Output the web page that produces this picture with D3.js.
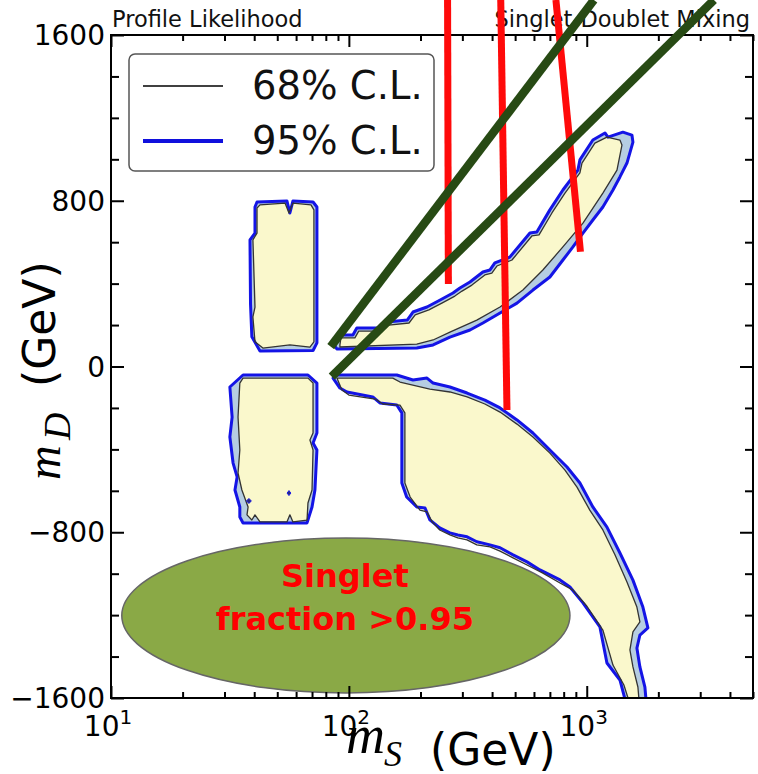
<!DOCTYPE html>
<html>
<head>
<meta charset="utf-8">
<script src="https://cdn.jsdelivr.net/npm/d3@7"></script>
<style>
  body { margin: 0; background: #fff; }
</style>
</head>
<body>
<div id="chart"></div>
<script>
// ---- data (mS in GeV, mD in GeV) ----
const xMajorTicks = [10, 100, 1000];
const xMinorTicks = [20, 30, 40, 50, 60, 70, 80, 90, 200, 300, 400, 500, 600, 700, 800, 900, 2000, 3000, 4000, 5000];
const yMajorTicks = [-1600, -800, 0, 800, 1600];
const yMinorTicks = [-1400, -1200, -1000, -600, -400, -200, 200, 400, 600, 1000, 1200, 1400];
const xExponents = ['1', '2', '3'];
const legendLabels = ['68% C.L.', '95% C.L.'];
const titleLeft = 'Profile Likelihood';
const titleRight = 'Singlet-Doublet Mixing';
const ellipseLabel = ['Singlet', 'fraction >0.95'];

// 95% C.L. regions
const upperLeft95 = [[41.1,794],[54.9,799],[56.5,741],[58.2,799],[70.7,794],[73.4,770],[73.4,114],[70.7,77],[42.3,75],[39.1,143],[38.6,300],[38.4,611],[40.3,644],[40.3,770]];
const lowerLeft95 = [[35.9,-41],[67.3,-41],[73.4,-80],[73.4,-321],[70.7,-369],[73.4,-403],[72.0,-596],[70.0,-678],[66.7,-755],[35.9,-755],[34.8,-726],[34.8,-678],[33.2,-596],[33.9,-533],[32.6,-466],[31.6,-340],[32.3,-244],[31.6,-99]];
const upperBand95 = [[86.6,104],[90,152],[104,152],[108,186],[135,186],[145,215],[176,224],[186,263],[213,287],[242,321],[274,355],[293,379],[323,408],[366,456],[392,466],[411,500],[475,528],[577,644],[617,649],[700,756],[794,852],[918,948],[936,997],[1061,1093],[1193,1127],[1228,1107],[1419,1131],[1549,1117],[1564,1083],[1476,982],[1379,915],[1289,852],[1169,770],[1061,707],[964,644],[875,577],[794,514],[700,432],[594,369],[509,306],[432,258],[366,210],[323,176],[266,142],[226,104],[193,89],[89,85]];
const lowerBand95 = [[85.8,-56],[89.1,-41],[159,-41],[186,-65],[213,-56],[226,-80],[266,-99],[314,-128],[373,-162],[432,-200],[509,-258],[594,-321],[700,-403],[826,-485],[936,-562],[1061,-678],[1216,-775],[1379,-900],[1564,-1031],[1722,-1161],[1808,-1262],[1673,-1296],[1625,-1359],[1673,-1450],[1756,-1547],[1791,-1660],[1490,-1660],[1379,-1513],[1216,-1431],[1136,-1257],[964,-1141],[850,-1064],[772,-1030],[636,-982],[561,-943],[490,-909],[432,-875],[392,-861],[345,-846],[314,-822],[287,-813],[266,-803],[241,-779],[219,-740],[209,-683],[193,-678],[175,-630],[167,-562],[167,-224],[159,-186],[135,-176],[126,-147],[98.2,-123],[91.7,-104]];

// 68% C.L. regions
const upperLeft68 = [[42.3,780],[53.9,789],[56.0,741],[58.2,789],[69.3,780],[71.3,756],[71.3,119],[68.6,94],[56.5,104],[43.5,89],[40.3,119],[39.5,239],[40.3,287],[39.5,611],[41.1,644],[41.1,765]];
const lowerLeft68 = [[35.9,-56],[67.3,-56],[70.7,-80],[70.7,-321],[68.6,-355],[70.7,-403],[70.0,-596],[67.3,-659],[66.7,-741],[58.2,-750],[56.5,-716],[54.9,-750],[42.3,-750],[40.3,-716],[39.1,-741],[37.3,-716],[37.7,-678],[35.5,-596],[34.2,-514],[34.8,-403],[34.2,-244],[34.8,-80]];
const upperBand68 = [[91.7,104],[92.6,138],[106,138],[110,171],[138,171],[147,200],[179,210],[190,249],[217,273],[246,306],[279,340],[299,364],[329,393],[373,442],[399,451],[419,485],[485,514],[588,630],[630,635],[714,741],[810,837],[936,934],[955,982],[1082,1078],[1216,1107],[1379,1093],[1406,1069],[1340,948],[1169,837],[964,692],[794,577],[654,466],[539,369],[432,287],[345,224],[266,166],[226,128],[193,108],[91.7,94]];
const lowerBand68 = [[89.1,-56],[153,-56],[164,-75],[219,-109],[266,-123],[314,-147],[373,-181],[432,-220],[509,-278],[594,-340],[700,-418],[810,-500],[910,-582],[1030,-693],[1169,-789],[1314,-909],[1476,-1040],[1625,-1161],[1673,-1233],[1564,-1281],[1519,-1368],[1564,-1450],[1641,-1547],[1673,-1660],[1549,-1660],[1433,-1537],[1289,-1441],[1169,-1272],[1000,-1156],[875,-1079],[772,-1045],[654,-997],[561,-958],[490,-924],[432,-891],[392,-871],[345,-861],[314,-837],[287,-827],[266,-813],[241,-789],[224,-750],[213,-702],[199,-693],[181,-630],[172,-562],[172,-224],[164,-186],[139,-181],[129,-157],[100,-138],[93.5,-113]];
const islands68 = [
  [[37.1,-649],[38.0,-637],[38.9,-649],[38.0,-661]],
  [[55.0,-611],[56.0,-599],[57.0,-611],[56.0,-623]]
];

// constraint lines: [[mS, mD], [mS, mD]]
const redLines = [
  [[260,1769],[262,398]],
  [[435,1769],[462,-210]],
  [[742,1769],[941,554]]
];
const greenLines = [
  [[83.9,96],[1072,1769]],
  [[84.7,-49],[3425,1769]]
];
// singlet-fraction ellipse extent (mS range, mD range)
const ellipseMS = [11.1, 850];
const ellipseMD = [-1576, -828];

// ---- layout ----
const width = 758, height = 774;
const margin = {top: 35, right: 5, bottom: 76, left: 111};
const plotW = width - margin.left - margin.right;
const plotH = height - margin.top - margin.bottom;

const x = d3.scaleLog().domain([10, 5000]).range([margin.left, width - margin.right]);
const y = d3.scaleLinear().domain([-1600, 1600]).range([height - margin.bottom, margin.top]);

const svg = d3.select('#chart').append('svg')
    .attr('width', width)
    .attr('height', height)
    .style('font-family', '"DejaVu Sans", sans-serif');

// Titles
svg.append('text')
    .attr('x', margin.left + 1).attr('y', 27)
    .attr('font-size', '22.5px').attr('fill', '#111')
    .text(titleLeft);
svg.append('text')
    .attr('x', width - 8).attr('y', 27)
    .attr('text-anchor', 'end')
    .attr('font-size', '22.5px').attr('fill', '#111')
    .text(titleRight);

// Contours
svg.append('clipPath').attr('id', 'plot-clip')
  .append('rect')
    .attr('x', margin.left).attr('y', margin.top)
    .attr('width', plotW).attr('height', plotH);

const plot = svg.append('g').attr('clip-path', 'url(#plot-clip)');
const area = d3.line().x(d => x(d[0])).y(d => y(d[1])).curve(d3.curveLinearClosed);

const regions95 = [upperLeft95, lowerLeft95, upperBand95, lowerBand95];
const regions68 = [upperLeft68, lowerLeft68, upperBand68, lowerBand68];

plot.selectAll('path.fill95').data(regions95).enter().append('path')
    .attr('class', 'fill95').attr('d', area)
    .attr('fill', '#b5cde2').attr('stroke', 'none');
plot.selectAll('path.fill68').data(regions68).enter().append('path')
    .attr('class', 'fill68').attr('d', area)
    .attr('fill', '#faf8cc').attr('stroke', 'none');
plot.selectAll('path.line95').data(regions95).enter().append('path')
    .attr('class', 'line95').attr('d', area)
    .attr('fill', 'none').attr('stroke', '#1414e6')
    .attr('stroke-width', 3).attr('stroke-linejoin', 'round');
plot.selectAll('path.line68').data(regions68).enter().append('path')
    .attr('class', 'line68').attr('d', area)
    .attr('fill', 'none').attr('stroke', '#333')
    .attr('stroke-width', 1.3).attr('stroke-linejoin', 'round');
plot.selectAll('path.island').data(islands68).enter().append('path')
    .attr('class', 'island').attr('d', area)
    .attr('fill', '#2a2a7a').attr('stroke', '#1414e6').attr('stroke-width', 1);

// Singlet fraction ellipse
const ex0 = x(ellipseMS[0]), ex1 = x(ellipseMS[1]);
const ey0 = y(ellipseMD[1]), ey1 = y(ellipseMD[0]);
plot.append('ellipse')
    .attr('cx', (ex0 + ex1) / 2).attr('cy', (ey0 + ey1) / 2)
    .attr('rx', (ex1 - ex0) / 2).attr('ry', (ey1 - ey0) / 2)
    .attr('fill', '#8aa946').attr('stroke', '#666').attr('stroke-width', 1.5);

svg.selectAll('text.singlet').data(ellipseLabel).enter().append('text')
    .attr('class', 'singlet')
    .attr('x', (ex0 + ex1) / 2 - 1)
    .attr('y', (d, i) => 587 + i * 43)
    .attr('text-anchor', 'middle')
    .attr('font-family', '"Comic Sans MS", "DejaVu Sans", sans-serif')
    .attr('font-weight', 'bold')
    .attr('font-size', '32px')
    .attr('fill', '#ff0000')
    .text(d => d);

// Frame
svg.append('rect')
    .attr('x', margin.left).attr('y', margin.top)
    .attr('width', plotW).attr('height', plotH)
    .attr('fill', 'none').attr('stroke', '#000').attr('stroke-width', 2);

// Ticks, pointing inward on all four sides
function ticks(axis, values, size, transform) {
    svg.append('g')
        .attr('transform', transform)
        .call(axis.tickValues(values).tickSize(-size).tickFormat(''))
        .call(g => g.select('.domain').remove())
        .call(g => g.selectAll('line').attr('stroke', '#000').attr('stroke-width', 2));
}
ticks(d3.axisBottom(x), xMajorTicks, 12, `translate(0,${y(-1600)})`);
ticks(d3.axisBottom(x), xMinorTicks, 6, `translate(0,${y(-1600)})`);
ticks(d3.axisTop(x), xMajorTicks, 12, `translate(0,${y(1600)})`);
ticks(d3.axisTop(x), xMinorTicks, 6, `translate(0,${y(1600)})`);
ticks(d3.axisLeft(y), yMajorTicks, 13, `translate(${x(10)},0)`);
ticks(d3.axisLeft(y), yMinorTicks, 8, `translate(${x(10)},0)`);
ticks(d3.axisRight(y), yMajorTicks, 13, `translate(${x(5000)},0)`);
ticks(d3.axisRight(y), yMinorTicks, 8, `translate(${x(5000)},0)`);

// Tick labels
svg.selectAll('text.ylab').data(yMajorTicks).enter().append('text')
    .attr('class', 'ylab')
    .attr('x', margin.left - 6)
    .attr('y', d => y(d))
    .attr('dy', '0.36em')
    .attr('text-anchor', 'end')
    .attr('font-size', '28px')
    .text(d => d3.format('d')(d).replace('-', '\u2212'));

const xl = svg.selectAll('text.xlab').data(xMajorTicks).enter().append('text')
    .attr('class', 'xlab')
    .attr('x', d => x(d) - 3)
    .attr('y', 736)
    .attr('text-anchor', 'middle')
    .attr('font-size', '28px');
xl.append('tspan').text('10');
xl.append('tspan').attr('font-size', '20px').attr('dy', -12).text((d, i) => xExponents[i]);

// Axis labels (math italic m with subscript, then units)
const serif = '"Liberation Serif", serif';
const xLabel = svg.append('text');
xLabel.append('tspan')
    .attr('x', 346).attr('y', 753)
    .attr('font-family', serif).attr('font-style', 'italic')
    .attr('font-size', '54px').text('m');
xLabel.append('tspan')
    .attr('x', 384).attr('y', 766)
    .attr('font-family', serif).attr('font-style', 'italic')
    .attr('font-size', '36px').text('S');
xLabel.append('tspan')
    .attr('x', 430).attr('y', 765)
    .attr('font-size', '44px').text('(GeV)');

const yLabel = svg.append('text').attr('transform', 'translate(60,480) rotate(-90)');
yLabel.append('tspan')
    .attr('x', 0).attr('y', 0)
    .attr('font-family', serif).attr('font-style', 'italic')
    .attr('font-size', '48px').text('m');
yLabel.append('tspan')
    .attr('x', 40).attr('y', 10)
    .attr('font-family', serif).attr('font-style', 'italic')
    .attr('font-size', '38px').text('D');
yLabel.append('tspan')
    .attr('x', 93).attr('y', -5)
    .attr('font-size', '44px').text('(GeV)');

// Legend
const legend = svg.append('g');
legend.append('rect')
    .attr('x', 129).attr('y', 54).attr('width', 305).attr('height', 117)
    .attr('rx', 6).attr('fill', '#fff').attr('stroke', '#555').attr('stroke-width', 1.5);
legendLabels.forEach((label, i) => {
    const ly = 86 + i * 55;
    legend.append('line')
        .attr('x1', 143).attr('x2', 223).attr('y1', ly).attr('y2', ly)
        .attr('stroke', i === 0 ? '#000' : '#1010dd')
        .attr('stroke-width', i === 0 ? 1.5 : 4);
    legend.append('text')
        .attr('x', 252).attr('y', ly + 13)
        .attr('font-size', '38.5px').attr('fill', '#111')
        .text(label);
});

// Constraint lines, drawn over everything and not clipped
const seg = d3.line().x(d => x(d[0])).y(d => y(d[1]));
svg.selectAll('path.red').data(redLines).enter().append('path')
    .attr('class', 'red').attr('d', seg)
    .attr('fill', 'none').attr('stroke', '#ff0a0a').attr('stroke-width', 7);
svg.selectAll('path.green').data(greenLines).enter().append('path')
    .attr('class', 'green').attr('d', seg)
    .attr('fill', 'none').attr('stroke', '#274a14').attr('stroke-width', 8.5);
</script>
</body>
</html>
